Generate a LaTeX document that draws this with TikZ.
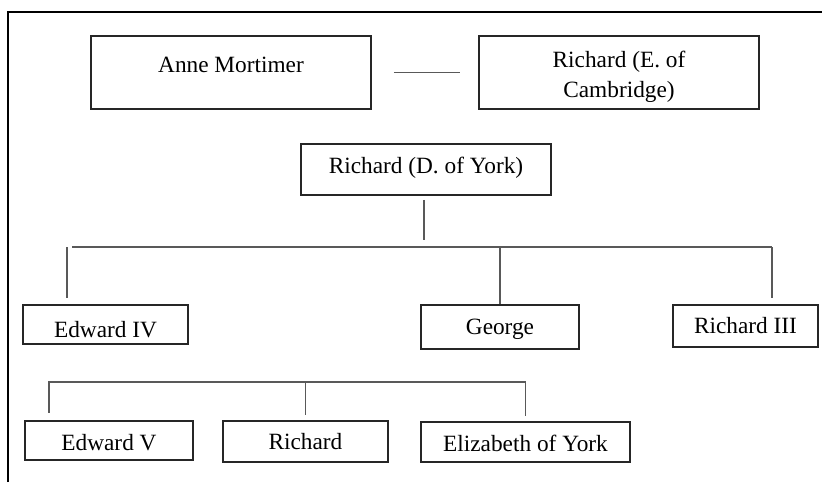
\documentclass[tikz,border=0pt]{standalone}
\usepackage{fontspec}
\setmainfont{Liberation Serif}
\begin{document}
\begin{tikzpicture}[x=1pt, y=-1pt,
    every node/.style={font=\fontsize{23.3}{30}\selectfont},
    box/.style 2 args={draw=black!85, line width=1.6pt, inner sep=0pt,
        minimum width=#1, minimum height=#2, align=center},
    oneline/.style={text height=15.4pt, text depth=0pt},
    link/.style={draw=black!65, line width=1.6pt}]

    \useasboundingbox (0,0) rectangle (822,482);

    % only the left and top sides of the frame show
    \draw[line width=1.6pt] (8,482) -- (8,12) -- (822,12);

    \node[box={280pt}{73pt}, text height=0pt, text depth=0pt] (anne) at (231,72.5) {Anne Mortimer};
    \node[box={280pt}{73pt}, text height=55.5pt, text depth=5pt] (cambridge) at (619,72.5) {Richard (E. of\\Cambridge)};
    \node[box={250pt}{51pt}, oneline, text depth=7pt] (york) at (426,169.5) {Richard (D. of York)};

    \node[box={165pt}{39pt}, oneline, text height=25.4pt] (edward4) at (105.5,324.5) {Edward IV};
    \node[box={158pt}{44pt}, oneline]  (george)    at (500,327)     {George};
    \node[box={145pt}{42pt}, oneline]  (richard3)  at (745.5,326)   {Richard III};

    \node[box={168pt}{39pt}, oneline, text height=20.4pt] (edward5) at (109,440.5) {Edward V};
    \node[box={165pt}{41pt}, oneline]  (richard)   at (305.5,441.5) {Richard};
    \node[box={209pt}{40pt}, oneline, text height=19.4pt] (elizabeth) at (525.5,442) {Elizabeth of York};

    \coordinate (kinL)  at (72,247);
    \coordinate (kinR)  at (772,247);
    \coordinate (kidsL) at (48,382);

    % marriage
    \draw[link] ([xshift=22pt]anne.east) -- ([xshift=-18pt]cambridge.west);

    % children of York
    \draw[link] ([xshift=-2pt, yshift=-4pt]york.south) -- ++(0,40);
    \draw[link] (kinL) -- (kinR);
    \draw[link] ([xshift=-5pt]kinL) -- ++(0,51);
    \draw[link] (kinL -| george.north) -- (george.north);
    \draw[link] (kinR) -- ++(0,51);

    % children of Edward IV
    \draw[link] (kidsL) -- (kidsL -| elizabeth.north);
    \draw[link] ([xshift=1pt]kidsL) -- ++(0,31);
    \foreach \kid in {richard, elizabeth}
        \draw[link] (kidsL -| \kid.north) -- ([yshift=5pt]\kid.north);
\end{tikzpicture}
\end{document}
